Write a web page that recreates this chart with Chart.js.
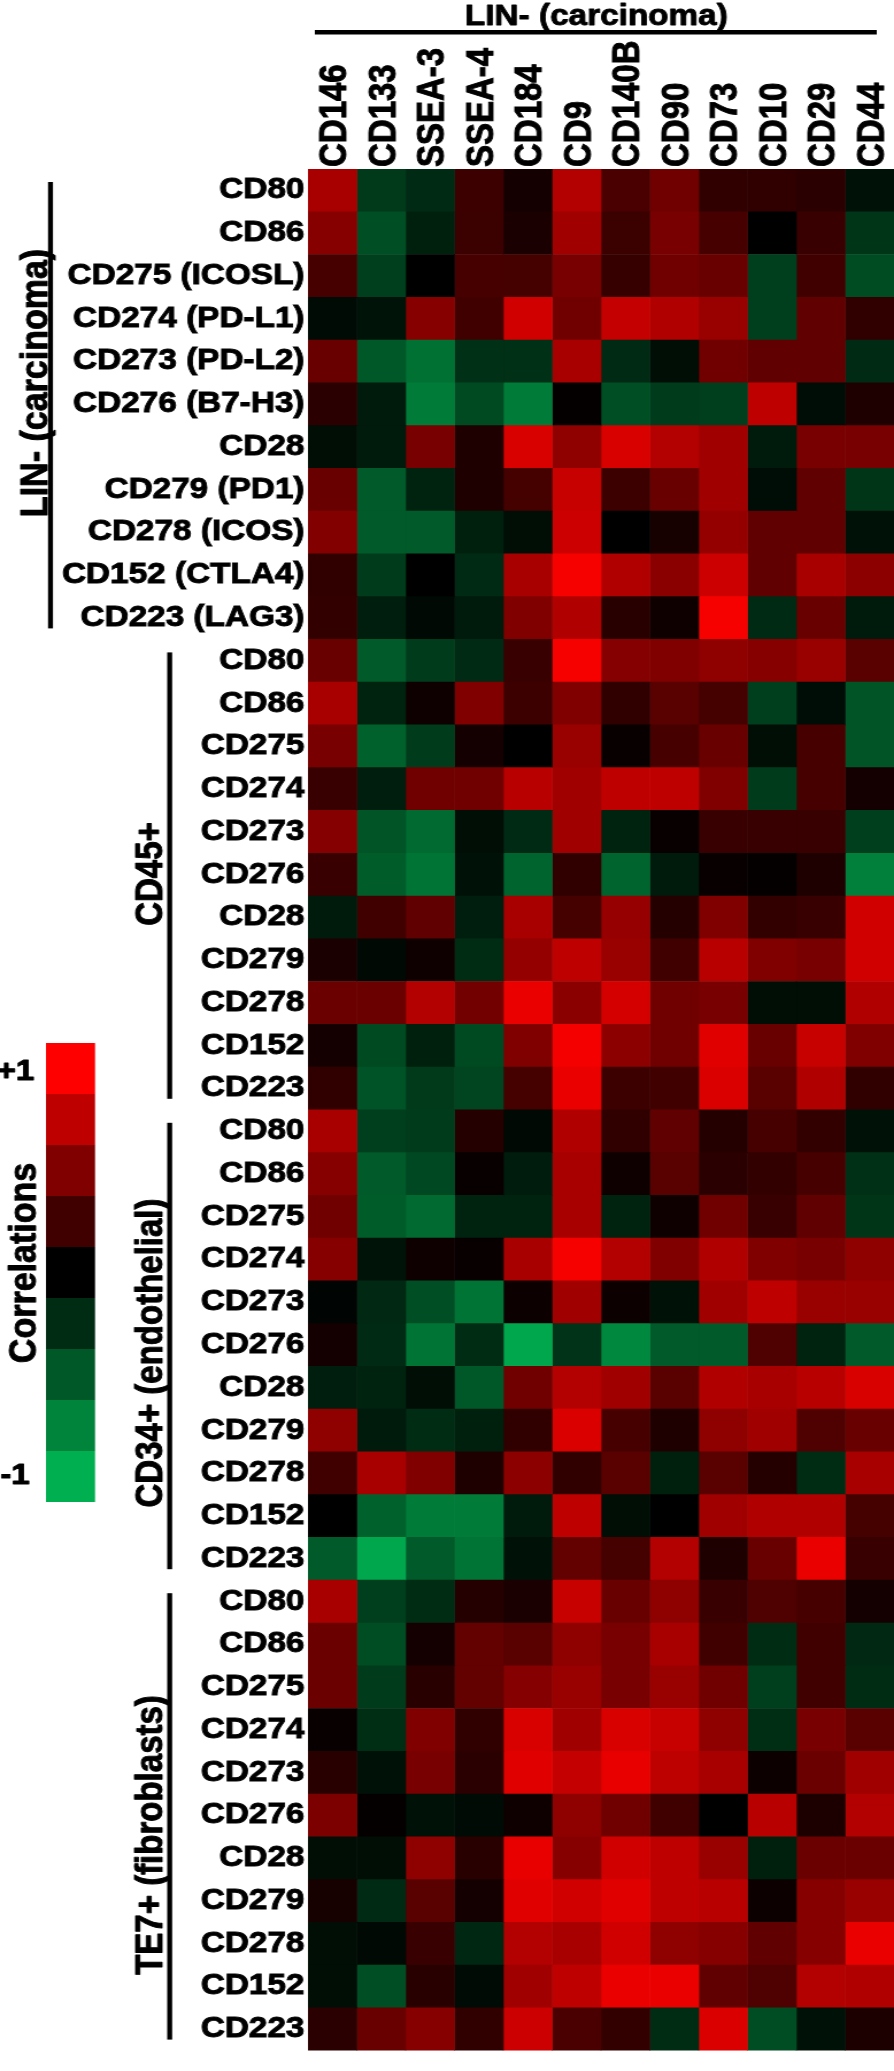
<!DOCTYPE html>
<html>
<head>
<meta charset="utf-8">
<script src="https://cdn.jsdelivr.net/npm/chart.js@4.4.1/dist/chart.umd.min.js"></script>
<style>
    html, body { margin: 0; padding: 0; background: #fff; }
    #heatmap { display: block; }
</style>
</head>
<body>
<!-- the figure is a little wider than tall per unit, so the canvas is stretched sideways -->
<canvas id="heatmap" width="778" height="2071" style="width: 894px; height: 2071px;"></canvas>
<script>
const columns = ['CD146', 'CD133', 'SSEA-3', 'SSEA-4', 'CD184', 'CD9', 'CD140B', 'CD90', 'CD73', 'CD10', 'CD29', 'CD44'];
const groupNames = ['LIN- (carcinoma)', 'CD45+', 'CD34+ (endothelial)', 'TE7+ (fibroblasts)'];
const linRows = ['CD80', 'CD86', 'CD275 (ICOSL)', 'CD274 (PD-L1)', 'CD273 (PD-L2)', 'CD276 (B7-H3)', 'CD28', 'CD279 (PD1)', 'CD278 (ICOS)', 'CD152 (CTLA4)', 'CD223 (LAG3)'];
const shortRows = ['CD80', 'CD86', 'CD275', 'CD274', 'CD273', 'CD276', 'CD28', 'CD279', 'CD278', 'CD152', 'CD223'];
const legendLevels = [1, 0.75, 0.5, 0.25, 0, -0.25, -0.5, -0.75, -1];

// correlations, rows in the order above, columns in the order of `columns`
const linValues = [
    [0.66, -0.33, -0.24, 0.24, 0.08, 0.70, 0.29, 0.44, 0.19, 0.19, 0.17, -0.10],
    [0.53, -0.45, -0.18, 0.23, 0.10, 0.63, 0.23, 0.47, 0.28, 0.00, 0.22, -0.30],
    [0.28, -0.36, 0.00, 0.28, 0.27, 0.47, 0.21, 0.44, 0.41, -0.36, 0.25, -0.43],
    [-0.06, -0.11, 0.53, 0.25, 0.82, 0.44, 0.77, 0.69, 0.60, -0.36, 0.38, 0.19],
    [0.41, -0.50, -0.64, -0.27, -0.27, 0.66, -0.24, -0.08, 0.44, 0.38, 0.38, -0.24],
    [0.17, -0.15, -0.70, -0.42, -0.70, 0.02, -0.45, -0.34, -0.36, 0.75, -0.07, 0.12],
    [-0.08, -0.15, 0.47, 0.12, 0.85, 0.56, 0.85, 0.70, 0.63, -0.15, 0.47, 0.47],
    [0.41, -0.51, -0.20, 0.12, 0.27, 0.78, 0.24, 0.41, 0.63, -0.07, 0.38, -0.30],
    [0.51, -0.51, -0.51, -0.18, -0.08, 0.80, 0.00, 0.09, 0.58, 0.38, 0.38, -0.10],
    [0.19, -0.34, 0.00, -0.24, 0.66, 0.97, 0.69, 0.54, 0.80, 0.38, 0.66, 0.55],
    [0.20, -0.17, -0.05, -0.15, 0.50, 0.69, 0.16, 0.06, 0.97, -0.24, 0.41, -0.15]
];
const cd45Values = [
    [0.41, -0.51, -0.34, -0.24, 0.22, 0.97, 0.52, 0.50, 0.56, 0.53, 0.60, 0.35],
    [0.66, -0.20, 0.06, 0.50, 0.24, 0.50, 0.19, 0.35, 0.27, -0.36, -0.07, -0.48],
    [0.47, -0.55, -0.34, 0.08, 0.00, 0.60, 0.03, 0.28, 0.41, -0.08, 0.28, -0.48],
    [0.22, -0.17, 0.44, 0.44, 0.72, 0.63, 0.75, 0.75, 0.50, -0.34, 0.28, 0.08],
    [0.52, -0.48, -0.60, -0.08, -0.24, 0.63, -0.20, 0.03, 0.22, 0.22, 0.22, -0.36],
    [0.22, -0.53, -0.66, -0.10, -0.57, 0.19, -0.57, -0.15, 0.03, 0.02, 0.12, -0.73],
    [-0.15, 0.25, 0.38, -0.17, 0.66, 0.27, 0.59, 0.14, 0.50, 0.20, 0.22, 0.82],
    [0.10, -0.05, 0.06, -0.25, 0.58, 0.75, 0.60, 0.25, 0.72, 0.50, 0.47, 0.82],
    [0.42, 0.42, 0.70, 0.45, 0.92, 0.54, 0.83, 0.44, 0.47, -0.08, -0.08, 0.69],
    [0.08, -0.42, -0.18, -0.42, 0.50, 0.96, 0.55, 0.44, 0.88, 0.41, 0.78, 0.50],
    [0.19, -0.47, -0.33, -0.39, 0.27, 0.92, 0.24, 0.25, 0.86, 0.35, 0.69, 0.19]
];
const cd34Values = [
    [0.66, -0.36, -0.34, 0.14, -0.05, 0.69, 0.19, 0.38, 0.14, 0.28, 0.20, -0.10],
    [0.53, -0.51, -0.41, 0.03, -0.16, 0.66, 0.06, 0.35, 0.17, 0.20, 0.28, -0.27],
    [0.44, -0.53, -0.60, -0.20, -0.20, 0.66, -0.20, 0.06, 0.44, 0.22, 0.38, -0.30],
    [0.53, -0.11, 0.06, 0.03, 0.66, 0.97, 0.70, 0.50, 0.69, 0.50, 0.47, 0.56],
    [-0.02, -0.23, -0.45, -0.66, 0.05, 0.63, 0.05, -0.10, 0.63, 0.75, 0.60, 0.60],
    [0.08, -0.24, -0.66, -0.25, -0.95, -0.29, -0.78, -0.51, -0.51, 0.31, -0.20, -0.51],
    [-0.17, -0.20, -0.08, -0.50, 0.44, 0.70, 0.63, 0.35, 0.69, 0.66, 0.72, 0.85],
    [0.56, -0.15, -0.25, -0.18, 0.19, 0.86, 0.28, 0.12, 0.56, 0.63, 0.31, 0.41],
    [0.25, 0.66, 0.50, 0.12, 0.55, 0.19, 0.35, -0.18, 0.35, 0.14, -0.25, 0.66],
    [0.00, -0.55, -0.70, -0.70, -0.15, 0.75, -0.08, 0.00, 0.63, 0.69, 0.69, 0.27],
    [-0.51, -0.95, -0.51, -0.66, -0.10, 0.39, 0.27, 0.70, 0.12, 0.41, 0.92, 0.22]
];
const te7Values = [
    [0.66, -0.36, -0.25, 0.14, 0.10, 0.78, 0.41, 0.56, 0.22, 0.31, 0.28, 0.08],
    [0.42, -0.44, 0.08, 0.39, 0.35, 0.56, 0.47, 0.66, 0.25, -0.25, 0.25, -0.23],
    [0.42, -0.34, 0.16, 0.39, 0.52, 0.60, 0.47, 0.60, 0.44, -0.36, 0.25, -0.25],
    [0.03, -0.26, 0.50, 0.19, 0.85, 0.63, 0.85, 0.78, 0.56, -0.26, 0.47, 0.35],
    [0.16, -0.10, 0.47, 0.17, 0.88, 0.77, 0.91, 0.74, 0.66, 0.05, 0.42, 0.63],
    [0.49, 0.02, -0.10, -0.06, 0.06, 0.56, 0.44, 0.25, 0.00, 0.72, 0.11, 0.70],
    [-0.08, -0.08, 0.56, 0.16, 0.91, 0.53, 0.82, 0.75, 0.60, -0.18, 0.42, 0.42],
    [0.09, -0.24, 0.35, 0.08, 0.88, 0.82, 0.88, 0.75, 0.72, 0.05, 0.53, 0.60],
    [-0.08, -0.05, 0.22, -0.22, 0.70, 0.66, 0.82, 0.56, 0.53, 0.38, 0.53, 0.92],
    [-0.08, -0.45, 0.16, -0.06, 0.63, 0.75, 0.92, 0.92, 0.38, 0.31, 0.70, 0.69],
    [0.17, 0.41, 0.53, 0.19, 0.80, 0.29, 0.20, -0.25, 0.86, -0.44, -0.10, 0.11]
];

const FONT = "'Liberation Sans', Arial, sans-serif";
const COL_FONT = 33;
const STROKE = 0.9; // the figure's lettering is a touch heavier than plain bold

const rowLabels = [...linRows, ...shortRows, ...shortRows, ...shortRows];
const allValues = [...linValues, ...cd45Values, ...cd34Values, ...te7Values];

// red for positive, black at zero, green for negative
const corrColor = (v) => {
    if (v >= 0) return `rgb(${Math.round(255 * v)},0,0)`;
    const a = -v;
    return `rgb(0,${Math.round(176 * a)},${Math.round(80 * a)})`;
};

// one floating-bar dataset per column, each bar is one cell
const datasets = columns.map((col, c) => ({
    label: col,
    data: rowLabels.map(() => [c, c + 1]),
    backgroundColor: allValues.map(row => corrColor(row[c])),
    borderWidth: 0,
    grouped: false,
    barPercentage: 1,
    categoryPercentage: 1
}));

const heavyText = (ctx, text, x, y) => {
    ctx.fillText(text, x, y);
    ctx.strokeText(text, x, y);
};

const decorations = {
    id: 'decorations',
    afterDraw(chart) {
        const ctx = chart.ctx;
        const yScale = chart.scales.y;
        const rowH = (yScale.bottom - yScale.top) / rowLabels.length;
        ctx.save();
        ctx.fillStyle = '#000';
        ctx.strokeStyle = '#000';
        ctx.lineWidth = STROKE;
        ctx.lineJoin = 'round';

        // column group title and its rule
        ctx.font = `bold 29px ${FONT}`;
        ctx.textAlign = 'center';
        ctx.textBaseline = 'alphabetic';
        heavyText(ctx, 'LIN- (carcinoma)', 519, 25);
        ctx.fillRect(274, 30, 489, 4.5);

        // row group brackets and labels
        const groupLayout = [
            { lineX: 41.8, textX: 40.6, textY: 383, size: 34 },
            { lineX: 145.5, textX: 140.7, textY: 874, size: 33 },
            { lineX: 145.5, textX: 140.7, textY: 1353, size: 33 },
            { lineX: 145.5, textX: 140.7, textY: 1835, size: 33 }
        ];
        groupNames.forEach((name, g) => {
            const first = g * 11;
            const top = yScale.getPixelForValue(first) - rowH / 2;
            const bottom = yScale.getPixelForValue(first + 10) + rowH / 2;
            const lay = groupLayout[g];
            ctx.fillRect(lay.lineX, top + 13, 4.3, bottom - top - 24);

            ctx.save();
            ctx.translate(lay.textX, lay.textY);
            ctx.rotate(-Math.PI / 2);
            ctx.font = `bold ${lay.size}px ${FONT}`;
            ctx.textAlign = 'center';
            heavyText(ctx, name, 0, 0);
            ctx.restore();
        });

        // colour key
        const keyTop = 1043, keyH = 51;
        legendLevels.forEach((lv, i) => {
            ctx.fillStyle = corrColor(lv);
            ctx.fillRect(40, keyTop + i * keyH, 42.7, keyH);
        });
        ctx.fillStyle = '#000';
        ctx.font = `bold 29px ${FONT}`;
        ctx.textAlign = 'right';
        heavyText(ctx, '+1', 30, 1080);
        heavyText(ctx, '-1', 26, 1484);

        ctx.save();
        ctx.translate(30.5, 1263);
        ctx.rotate(-Math.PI / 2);
        ctx.font = `bold 34px ${FONT}`;
        ctx.textAlign = 'center';
        heavyText(ctx, 'Correlations', 0, 0);
        ctx.restore();

        ctx.restore();
    }
};

Chart.defaults.font.family = FONT;
Chart.defaults.color = '#000';

new Chart(document.getElementById('heatmap').getContext('2d'), {
    type: 'bar',
    data: { labels: rowLabels, datasets },
    options: {
        indexAxis: 'y',
        responsive: false,
        animation: false,
        events: [],
        layout: { padding: 0 },
        plugins: {
            legend: { display: false },
            tooltip: { enabled: false }
        },
        scales: {
            x: {
                type: 'linear',
                position: 'top',
                min: 0,
                max: columns.length,
                grid: { display: false, drawTicks: false },
                border: { display: false },
                afterBuildTicks: (scale) => {
                    scale.ticks = columns.map((_, i) => ({ value: i + 0.5 }));
                },
                afterFit: (scale) => { scale.height = 169; },
                ticks: {
                    autoSkip: false,
                    maxRotation: 90,
                    minRotation: 90,
                    padding: 2,
                    // rotated top labels sit one line height to the left of their tick
                    labelOffset: COL_FONT * 1.2 + 3,
                    textStrokeColor: '#000',
                    textStrokeWidth: STROKE,
                    font: { size: COL_FONT, weight: 'bold' },
                    callback: (value, index) => columns[index]
                }
            },
            y: {
                type: 'category',
                grid: { display: false, drawTicks: false },
                border: { display: false },
                afterFit: (scale) => { scale.width = 268; },
                ticks: {
                    autoSkip: false,
                    padding: 3,
                    textStrokeColor: '#000',
                    textStrokeWidth: STROKE,
                    font: { size: 29, weight: 'bold' }
                }
            }
        }
    },
    plugins: [decorations]
});
</script>
</body>
</html>
